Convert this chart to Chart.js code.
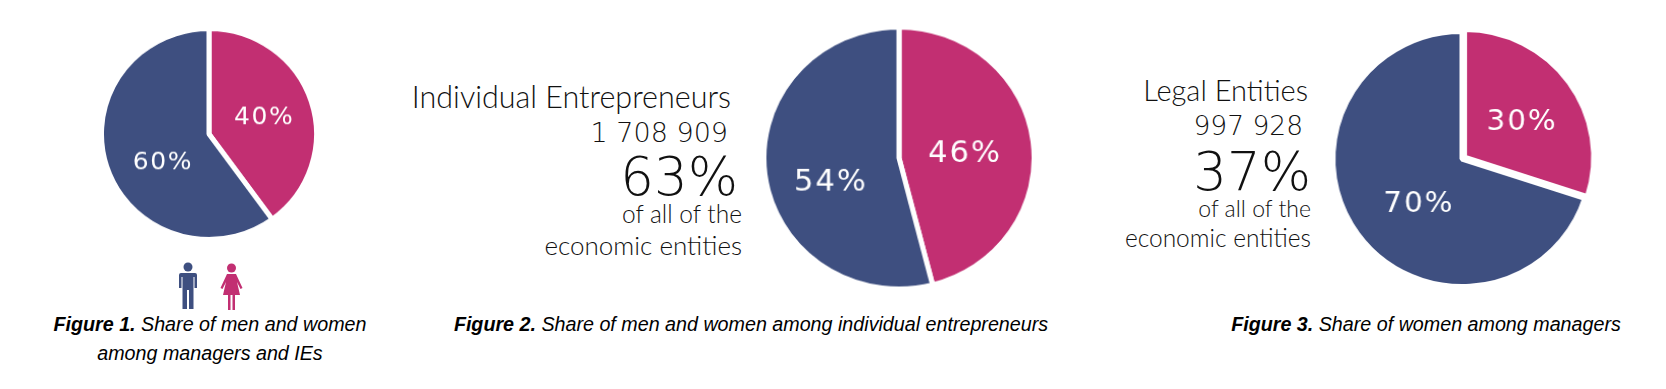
<!DOCTYPE html>
<html>
<head>
<meta charset="utf-8">
<title>Share of men and women</title>
<script src="https://cdn.jsdelivr.net/npm/chart.js@4"></script>
<style>
  html, body { margin: 0; padding: 0; background: #fff; }
  #page { position: relative; width: 1666px; height: 389px; overflow: hidden; }
  #page canvas { position: absolute; }
  .t { position: absolute; white-space: nowrap; color: #111; line-height: 1; font-family: Lato, "Open Sans", sans-serif; font-weight: 300; text-align: right; }
  .n { font-family: "DejaVu Sans", sans-serif; font-weight: 200; color: #111; }
  .cap { position: absolute; white-space: nowrap; color: #000; line-height: 1; font-family: "Liberation Sans", Arial, sans-serif; font-style: italic; font-size: 19.7px; text-align: center; transform: translateX(-50%); }
  .cap b { font-weight: bold; }
  svg { position: absolute; }
</style>
</head>
<body>
<div id="page">
  <canvas id="pie1"></canvas>
  <canvas id="pie2"></canvas>
  <canvas id="pie3"></canvas>

  <div class="t" style="right:935px;top:81px;font-size:30.500px;">Individual Entrepreneurs</div>
  <div class="t n" style="right:938px;top:119px;font-size:27px;">1 708 909</div>
  <div class="t n" style="right:928px;top:150px;font-size:53px;">63%</div>
  <div class="t" style="right:924px;top:202px;font-size:24.500px;">of all of the</div>
  <div class="t" style="right:924px;top:232px;font-size:26px;">economic entities</div>

  <div class="t" style="right:358px;top:75px;font-size:29px;">Legal Entities</div>
  <div class="t n" style="right:363px;top:113px;font-size:26.500px;">997 928</div>
  <div class="t n" style="right:355px;top:145px;font-size:53px;">37%</div>
  <div class="t" style="right:355px;top:197px;font-size:23px;">of all of the</div>
  <div class="t" style="right:355px;top:226px;font-size:24.500px;">economic entities</div>

  <svg style="left:178px;top:262px" width="20" height="49" viewBox="0 0 20 49">
    <circle cx="10" cy="5" r="4.500" fill="#3e4f80"/>
    <path d="M3 11h14q2 0 2 2v13h-2.500v-11h-1v32h-4.500v-19h-2v19h-4.500v-32h-1v11h-2.500v-13q0-2 2-2z" fill="#3e4f80"/>
  </svg>
  <svg style="left:220px;top:263px" width="23" height="48" viewBox="0 0 23 48">
    <circle cx="11.500" cy="5" r="4.500" fill="#c22f72"/>
    <path d="M7 11h9l6.500 14-2 1-3.500-7 3 13h-5v15h-2.500v-15h-2v15h-2.500v-15h-5l3-13-3.500 7-2-1z" fill="#c22f72"/>
  </svg>

  <div class="cap" style="left:210px;top:315px;"><b>Figure 1.</b> Share of men and women</div>
  <div class="cap" style="left:210px;top:344px;">among managers and IEs</div>
  <div class="cap" style="left:751px;top:315px;"><b>Figure 2.</b> Share of men and women among individual entrepreneurs</div>
  <div class="cap" style="left:1426px;top:315px;"><b>Figure 3.</b> Share of women among managers</div>
</div>

<script>
  const sliceNames = ['Women', 'Men'];
  const sliceColors = ['#c22f72', '#3e4f80'];
  const fig1Values = [40, 60];
  const fig2Values = [46, 54];
  const fig3Values = [30, 70];

  // draws the percent text on each slice, shifted from the slice centre
  const percentLabels = {
    id: 'percentLabels',
    afterDatasetsDraw(chart, args, opts) {
      const { ctx } = chart;
      const meta = chart.getDatasetMeta(0);
      const values = chart.data.datasets[0].data;
      ctx.save();
      ctx.fillStyle = '#fff';
      ctx.font = opts.size + 'px "DejaVu Sans"';
      ctx.letterSpacing = opts.spacing + 'px';
      ctx.textAlign = 'center';
      ctx.textBaseline = 'middle';
      meta.data.forEach((arc, i) => {
        const p = arc.getCenterPoint();
        ctx.fillText(values[i] + '%', p.x + opts.shift[i][0], p.y + opts.shift[i][1]);
      });
      ctx.restore();
    },
  };

  function makePie(id, values, cx, cy, size, offset, stretch, label) {
    const el = document.getElementById(id);
    el.width = size;
    el.height = size;
    el.style.left = (cx - size / 2) + 'px';
    el.style.top = (cy - size / 2) + 'px';
    // the source pies are not quite round
    el.style.transform = 'scale(' + stretch[0] + ',' + stretch[1] + ')';
    return new Chart(el, {
      type: 'pie',
      data: {
        labels: sliceNames,
        datasets: [{
          data: values,
          backgroundColor: sliceColors,
          borderColor: '#fff',
          borderWidth: 5,
          offset: [offset, 0],
        }],
      },
      options: {
        animation: false,
        responsive: false,
        plugins: {
          legend: { display: false },
          tooltip: { enabled: false },
          percentLabels: label,
        },
      },
      plugins: [percentLabels],
    });
  }

  makePie('pie1', fig1Values, 209, 134, 220, 0, [1, 0.98], { size: 25, spacing: 1.5, shift: [[4, 0], [5, 13]] });
  makePie('pie2', fig2Values, 899, 158, 270, 0, [1.02, 0.988], { size: 30, spacing: 2, shift: [[-1, 5], [-1, 17]] });
  makePie('pie3', fig3Values, 1462, 159, 272, 12, [1.012, 1], { size: 29, spacing: 2, shift: [[3, 4], [9, 8]] });
</script>
</body>
</html>
